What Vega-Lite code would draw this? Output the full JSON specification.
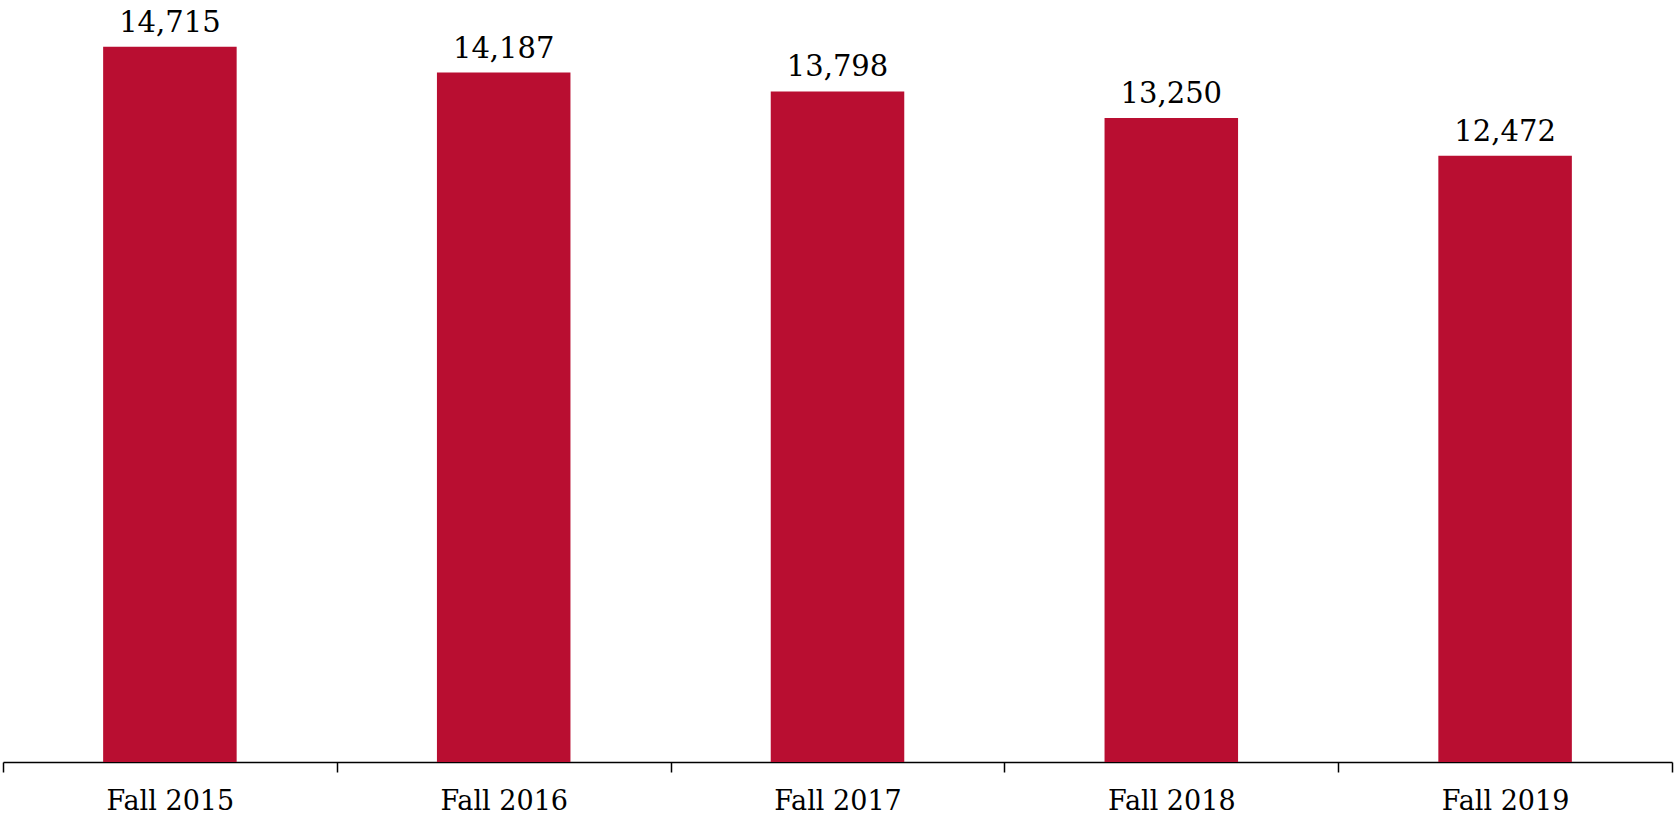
{
  "$schema": "https://vega.github.io/schema/vega-lite/v6.json",
  "autosize": {"type": "none"},
  "padding": {"left": 3, "right": 3, "top": 33, "bottom": 55},
  "width": 1669,
  "height": 729,
  "background": "white",
  "config": {"view": {"stroke": null}},
  "data": {"values": [
    {"term": "Fall 2015", "count": 14715},
    {"term": "Fall 2016", "count": 14187},
    {"term": "Fall 2017", "count": 13798},
    {"term": "Fall 2018", "count": 13250},
    {"term": "Fall 2019", "count": 12472}
  ]},
  "encoding": {
    "x": {"field": "term", "type": "nominal", "sort": null,
      "scale": {"paddingInner": 0, "paddingOuter": 0},
      "axis": {"title": null, "labelAngle": 0, "labelFont": "DejaVu Serif", "labelFontSize": 27, "labelColor": "#000", "labelPadding": 16,
        "tickBand": "extent", "tickSize": 10, "tickColor": "#000", "tickWidth": 1.5, "domainColor": "#000", "domainWidth": 1.5}},
    "y": {"field": "count", "type": "quantitative", "scale": {"domain": [0, 15000], "nice": false}, "axis": null}
  },
  "layer": [
    {"mark": {"type": "bar", "color": "#B90E31", "width": {"band": 0.4}}},
    {"mark": {"type": "text", "font": "DejaVu Serif", "fontSize": 29, "color": "#000", "baseline": "alphabetic", "dy": -15},
     "encoding": {"text": {"field": "count", "type": "quantitative", "format": ","}}}
  ]
}
